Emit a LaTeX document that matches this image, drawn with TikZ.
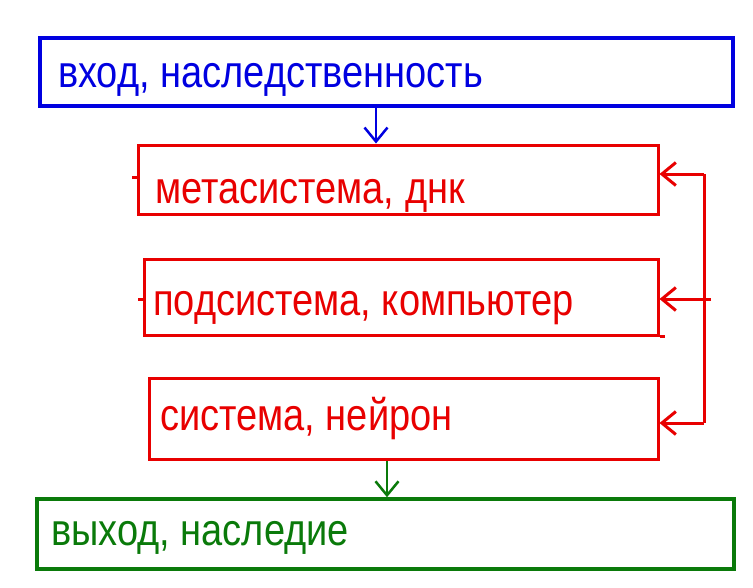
\documentclass[tikz,border=0pt]{standalone}
\usepackage{fontspec}
\usepackage{graphicx}
\setmainfont{Liberation Sans}
\usepackage{tikz}
\usetikzlibrary{arrows.meta}
\definecolor{inblue}{RGB}{0,0,224}
\definecolor{sysred}{RGB}{232,0,0}
\definecolor{outgreen}{RGB}{10,122,10}
\newcommand{\tallx}[1]{\scalebox{1}[1.18]{#1}}

\begin{document}
\begin{tikzpicture}[x=1pt,y=-1pt,>={Straight Barb[length=14pt,width=23pt]}]
  \tikzstyle{box}=[rectangle,line width=3.5pt,inner sep=0pt]
  \tikzstyle{blue box}=[box,draw=inblue]
  \tikzstyle{red box}=[box,draw=sysred,line width=3pt]
  \tikzstyle{green box}=[box,draw=outgreen]
  \tikzstyle{caption}=[anchor=base west,inner sep=0pt,
                       font=\fontsize{38}{40}\selectfont]
  \useasboundingbox (0,0) rectangle (753,587);
  % boxes
  \node [blue box,minimum width=693pt,minimum height=68pt] (input) at (386.5,72) {};
  \node [red box,minimum width=520pt,minimum height=69pt] (meta) at (398,179.5) {};
  \node [red box,minimum width=514pt,minimum height=76pt] (sub) at (401,297) {};
  \node [red box,minimum width=509pt,minimum height=81pt] (sys) at (403.5,418.5) {};
  \node [green box,minimum width=697pt,minimum height=70pt] (output) at (385.5,534) {};
  % texts
  \node [caption,text=inblue] (t1) at (58,87) {\tallx{вход, наследственность}};
  \node [caption,text=sysred] (t2) at (155,203) {\tallx{метасистема, днк}};
  \node [caption,text=sysred] (t3) at (153,315) {\tallx{подсистема, компьютер}};
  \node [caption,text=sysred] (t4) at (160,430) {\tallx{система, нейрон}};
  \node [caption,text=outgreen] (t5) at (51,545) {\tallx{выход, наследие}};
  % in and out
  \coordinate (inx) at (376,0);
  \coordinate (outx) at (387,0);
  \draw [->,inblue,line width=2.5pt] (input.south -| inx) -- (meta.north -| inx);
  \draw [->,outgreen,line width=2.5pt] (sys.south -| outx) -- (output.north -| outx);
  % feedback
  \coordinate (fbtop) at (704,174);
  \coordinate (fbmid) at (711,299);
  \coordinate (fbbot) at (704,423);
  \draw [sysred,line width=3pt] (fbtop) -- (fbbot);
  \draw [->,sysred,line width=3pt] (fbtop) -- (meta.east |- fbtop);
  \draw [->,sysred,line width=3pt] (fbmid) -- (sub.east |- fbmid);
  \draw [->,sysred,line width=3pt] (fbbot) -- (sys.east |- fbbot);
  % ticks
  \draw [sysred,line width=3pt] (meta.west |- 0,177) -- ++(-5,0);
  \draw [sysred,line width=3pt] (sub.west |- 0,299) -- ++(-5,0) (sub.west |- 0,299) -- ++(3,0);
  \draw [sysred,line width=3pt] (sub.south east) -- ++(5,0);
\end{tikzpicture}
\end{document}
